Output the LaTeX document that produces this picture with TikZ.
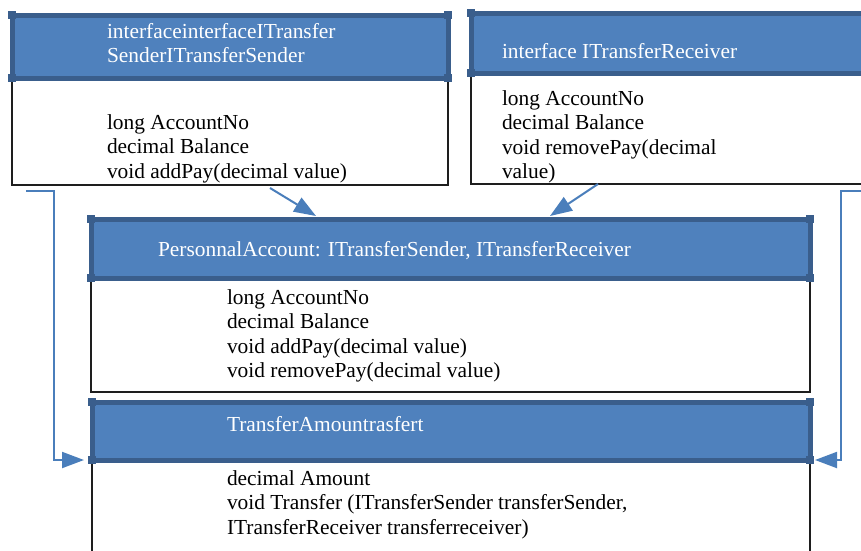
\documentclass[tikz,border=0pt]{standalone}
\usepackage{fontspec}
\setmainfont{Liberation Serif}
\usetikzlibrary{arrows.meta,calc}
\definecolor{hdrfill}{HTML}{4F81BD}
\definecolor{hdrline}{HTML}{3A5E8C}
\definecolor{linkblue}{HTML}{4A7EBB}
\definecolor{sidecol}{HTML}{1E1E1E}

\begin{document}
\begin{tikzpicture}[x=1pt,y=-1pt,
  hdr/.style={rectangle, fill=hdrfill, draw=hdrline, line width=5pt, inner sep=0pt, outer sep=0pt, anchor=north west},
  bodyarea/.style={rectangle, inner sep=0pt, outer sep=0pt, anchor=north west},
  sideline/.style={draw=sidecol, line width=1.8pt},
  knob/.style={rectangle, fill=hdrline, minimum size=7.5pt, inner sep=0pt, outer sep=0pt},
  txt/.style={anchor=north west, inner sep=0pt, outer sep=0pt, align=left, font=\fontsize{21.4}{24.5}\selectfont},
  hdrtxt/.style={txt, text=white},
  link/.style={draw=linkblue, line width=2pt, -{Triangle[length=22pt,width=16pt]}},
]
\useasboundingbox (0,0) rectangle (861,550);
\clip (0,0) rectangle (861,550);

% class bodies (white area framed on three sides)
\node[bodyarea, minimum width=436pt, minimum height=107pt] (sendB) at (12,78) {};
\node[bodyarea, minimum width=420pt, minimum height=111pt] (recvB) at (471,73) {};
\node[bodyarea, minimum width=719pt, minimum height=114pt] (paB) at (91,278) {};
\node[bodyarea, minimum width=718pt, minimum height=100pt] (taB) at (92,460) {};

\foreach \b in {sendB,recvB,paB,taB}
  \draw[sideline] (\b.north west) -- (\b.south west) -- (\b.south east) -- (\b.north east);

% class headers
\node[hdr, minimum width=436pt, minimum height=63pt] (sendH) at (12,15) {};
\node[hdr, minimum width=420pt, minimum height=60pt] (recvH) at (471,13) {};
\node[hdr, minimum width=719pt, minimum height=59pt] (paH) at (91,219) {};
\node[hdr, minimum width=718pt, minimum height=58pt] (taH) at (92,402) {};

\foreach \h in {sendH,recvH,paH,taH}
  \foreach \c in {north west,north east,south west,south east}
    \node[knob] at (\h.\c) {};

% header titles
\node[hdrtxt] (sendT) at (107,20.85) {\strut interfaceinterfaceITransfer\\\strut SenderITransferSender};
\node[hdrtxt] (recvT) at (502,40.85) {\strut interface ITransferReceiver};
\node[hdrtxt] (paT) at (158,238.85) {\strut PersonnalAccount: ITransferSender, ITransferReceiver};
\node[hdrtxt] (taT) at (227,413.85) {\strut TransferAmountrasfert};

% members
\node[txt] (sendM) at (107,111.85) {\strut long AccountNo\\\strut decimal Balance\\\strut void addPay(decimal value)};
\node[txt] (recvM) at (502,87.85) {\strut long AccountNo\\\strut decimal Balance\\\strut void removePay(decimal\\\strut value)};
\node[txt] (paM) at (227,286.85) {\strut long AccountNo\\\strut decimal Balance\\\strut void addPay(decimal value)\\\strut void removePay(decimal value)};
\node[txt] (taM) at (227,467.85) {\strut decimal Amount\\\strut void Transfer (ITransferSender transferSender,\\\strut ITransferReceiver transferreceiver)};

% realisation arrows
\draw[link] ($(sendB.south west)+(258,3)$) -- ($(paH.north west)+(225,-3)$);
\draw[link] ($(recvB.south west)+(127,0)$) -- ($(paH.north west)+(459,-3)$);

% dependency links into TransferAmount
\coordinate (lfree) at (26,191);
\coordinate (lrail) at (54,191);
\coordinate (rfree) at (861,191);
\coordinate (rrail) at (841,191);
\draw[link] (lfree) -- (lrail) |- ($(taH.south west)+(-8,0)$);
\draw[link] (rfree) -- (rrail) |- ($(taH.south east)+(5,0)$);
\end{tikzpicture}
\end{document}
